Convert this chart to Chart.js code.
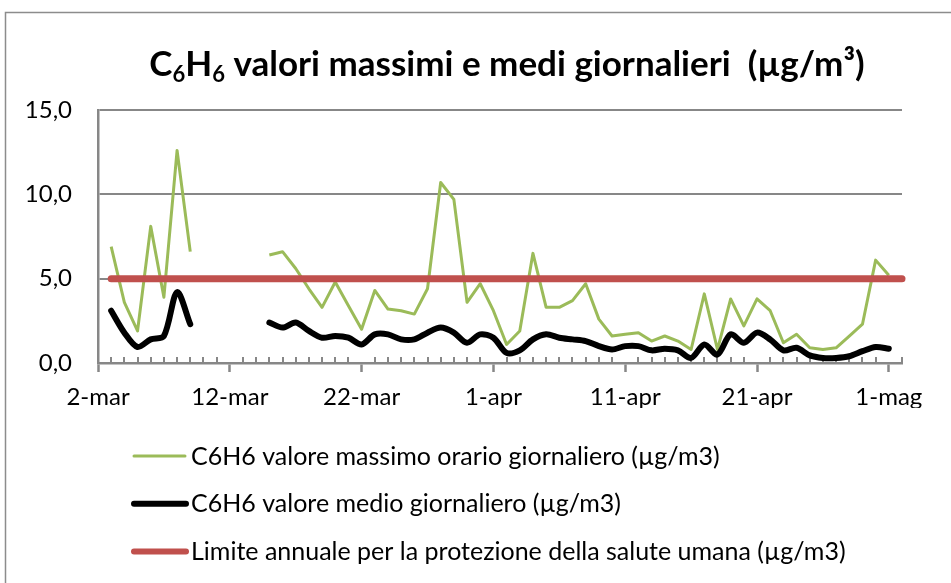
<!DOCTYPE html>
<html>
<head>
<meta charset="utf-8">
<script src="https://cdn.jsdelivr.net/npm/chart.js@4/dist/chart.umd.min.js"></script>
<style>
html,body{margin:0;padding:0;background:#fff;overflow:hidden}
canvas{display:block}
</style>
</head>
<body>
<canvas id="c" width="951" height="583"></canvas>
<script>
// ---- data ----
const categories = [
  '2-mar','3-mar','4-mar','5-mar','6-mar','7-mar','8-mar','9-mar','10-mar','11-mar',
  '12-mar','13-mar','14-mar','15-mar','16-mar','17-mar','18-mar','19-mar','20-mar','21-mar',
  '22-mar','23-mar','24-mar','25-mar','26-mar','27-mar','28-mar','29-mar','30-mar','31-mar',
  '1-apr','2-apr','3-apr','4-apr','5-apr','6-apr','7-apr','8-apr','9-apr','10-apr',
  '11-apr','12-apr','13-apr','14-apr','15-apr','16-apr','17-apr','18-apr','19-apr','20-apr',
  '21-apr','22-apr','23-apr','24-apr','25-apr','26-apr','27-apr','28-apr','29-apr','30-apr',
  '1-mag','2-mag'
];
const majorTickLabels = ['2-mar','12-mar','22-mar','1-apr','11-apr','21-apr','1-mag'];
const yTickValues = [0, 5, 10, 15];

const maxHourly = [
  null,
  6.9, 3.6, 1.9, 8.1, 3.9, 12.6, 6.6,
  null, null, null, null, null,
  6.4, 6.6, 5.6, 4.4, 3.3, 4.8, 3.4, 2.0,
  4.3, 3.2, 3.1, 2.9, 4.4, 10.7, 9.7, 3.6, 4.7,
  3.1, 1.1, 1.9, 6.5, 3.3, 3.3, 3.7, 4.7, 2.6, 1.6,
  1.7, 1.8, 1.3, 1.6, 1.3, 0.8, 4.1, 0.8, 3.8, 2.2,
  3.8, 3.1, 1.2, 1.7, 0.9, 0.8, 0.9, 1.6, 2.3, 6.1,
  5.2, null
];
const dailyMean = [
  null,
  3.1, 1.8, 0.95, 1.4, 1.6, 4.2, 2.3,
  null, null, null, null, null,
  2.4, 2.1, 2.4, 1.9, 1.5, 1.6, 1.5, 1.1,
  1.7, 1.7, 1.4, 1.4, 1.8, 2.1, 1.8, 1.2, 1.7,
  1.5, 0.6, 0.75, 1.4, 1.7, 1.5, 1.4, 1.3, 1.0, 0.8,
  1.0, 1.0, 0.75, 0.85, 0.75, 0.3, 1.1, 0.5, 1.7, 1.2,
  1.8, 1.4, 0.75, 0.9, 0.45, 0.3, 0.3, 0.4, 0.7, 0.95,
  0.85, null
];
const annualLimit = [
  null,
  5, 5, 5, 5, 5, 5, 5, 5, 5, 5,
  5, 5, 5, 5, 5, 5, 5, 5, 5, 5,
  5, 5, 5, 5, 5, 5, 5, 5, 5, 5,
  5, 5, 5, 5, 5, 5, 5, 5, 5, 5,
  5, 5, 5, 5, 5, 5, 5, 5, 5, 5,
  5, 5, 5, 5, 5, 5, 5, 5, 5, 5,
  5
];
const seriesLabels = [
  'C6H6 valore massimo orario giornaliero (µg/m3)',
  'C6H6 valore medio giornaliero (µg/m3)',
  'Limite annuale per la protezione della salute umana (µg/m3)'
];
const titleParts = [['C', false], ['6', true], ['H', false], ['6', true], [' valori massimi e medi giornalieri  (µg/m³)', false]];

// ---- style ----
const GRAY = '#878787';
const FONT = 'Lato, Carlito, "Open Sans", sans-serif';

const framePlugin = {
  id: 'frame',
  beforeDraw(chart) {
    const ctx = chart.ctx;
    ctx.save();
    ctx.strokeStyle = '#8c8c8c';
    ctx.lineWidth = 1.5;
    ctx.beginPath();
    ctx.moveTo(5.5, chart.height);
    ctx.lineTo(5.5, 12.5);
    ctx.lineTo(chart.width, 12.5);
    ctx.stroke();
    ctx.restore();
  }
};

const minorTicksPlugin = {
  id: 'minorTicks',
  beforeDatasetsDraw(chart) {
    const xs = chart.scales.x, ctx = chart.ctx;
    const y0 = chart.chartArea.bottom;
    ctx.save();
    ctx.strokeStyle = GRAY;
    ctx.lineWidth = 2;
    ctx.beginPath();
    for (let i = 1; i < categories.length; i++) {
      if (majorTickLabels.includes(categories[i])) continue;
      const x = Math.round(xs.getPixelForValue(i));
      ctx.moveTo(x, y0);
      ctx.lineTo(x, y0 - 6);
    }
    ctx.stroke();
    ctx.restore();
  }
};

const titlePlugin = {
  id: 'subTitle',
  afterDraw(chart) {
    const ctx = chart.ctx;
    const big = 'bold 35px ' + FONT, small = 'bold 22px ' + FONT;
    ctx.save();
    let total = 0;
    const widths = titleParts.map(([t, sub]) => { ctx.font = sub ? small : big; const w = ctx.measureText(t).width; total += w; return w; });
    let x = 507 - total / 2;
    const base = 76;
    ctx.fillStyle = '#000';
    ctx.textBaseline = 'alphabetic';
    titleParts.forEach(([t, sub], i) => {
      ctx.font = sub ? small : big;
      ctx.fillText(t, x, base + (sub ? 6 : 0));
      x += widths[i];
    });
    ctx.restore();
  }
};

const legendPlugin = {
  id: 'stackLegend',
  afterDraw(chart) {
    const ctx = chart.ctx;
    ctx.save();
    ctx.font = '25px ' + FONT;
    ctx.textBaseline = 'alphabetic';
    chart.data.datasets.forEach((ds, i) => {
      const yLine = 456 + i * 47.8;
      ctx.strokeStyle = ds.borderColor;
      ctx.lineWidth = Math.min(ds.borderWidth, 6);
      ctx.lineCap = 'round';
      ctx.beginPath();
      ctx.moveTo(134, yLine);
      ctx.lineTo(i === 0 ? 185 : 186, yLine);
      ctx.stroke();
      ctx.fillStyle = '#000';
      ctx.fillText(ds.label, 191, yLine + 8.5);
    });
    ctx.restore();
  }
};

new Chart(document.getElementById('c'), {
  type: 'line',
  data: {
    labels: categories,
    datasets: [
      { label: seriesLabels[0], data: maxHourly, borderColor: '#9BBB59', borderWidth: 3,
        pointRadius: 0, tension: 0, spanGaps: false, order: 2, borderJoinStyle: 'round' },
      { label: seriesLabels[1], data: dailyMean, borderColor: '#000000', borderWidth: 6,
        pointRadius: 0, tension: 0.3, spanGaps: false, order: 1, borderJoinStyle: 'round', borderCapStyle: 'round' },
      { label: seriesLabels[2], data: annualLimit, borderColor: '#C0504D', borderWidth: 7,
        pointRadius: 0, tension: 0, order: 0, borderCapStyle: 'round', clip: 8 }
    ]
  },
  options: {
    responsive: false,
    animation: false,
    events: [],
    layout: { padding: { left: 0, top: 110, right: 49, bottom: 175 } },
    plugins: { legend: { display: false }, title: { display: false }, tooltip: { enabled: false } },
    scales: {
      x: {
        type: 'category',
        offset: false,
        afterFit(s) { s.height = 45; },
        afterBuildTicks(s) { s.ticks = s.ticks.filter(t => majorTickLabels.includes(categories[t.value])); },
        grid: { display: true, drawOnChartArea: false, drawTicks: true, tickLength: 9, tickColor: GRAY, tickWidth: 2.5 },
        border: { display: true, color: GRAY, width: 2.5 },
        ticks: {
          autoSkip: false, maxRotation: 0, minRotation: 0, padding: 11,
          color: '#000', font: { family: FONT, size: 24 },
          callback(v) { return categories[v]; }
        }
      },
      y: {
        min: 0, max: 15,
        afterFit(s) { s.width = 98; },
        afterBuildTicks(s) { s.ticks = yTickValues.map(v => ({ value: v })); },
        grid: { color: GRAY, lineWidth: 2, drawTicks: false },
        border: { display: true, color: GRAY, width: 2.5 },
        ticks: {
          padding: 26, color: '#000', font: { family: FONT, size: 24 },
          callback(v) { return v.toFixed(1).replace('.', ','); }
        }
      }
    }
  },
  plugins: [framePlugin, minorTicksPlugin, titlePlugin, legendPlugin]
});
</script>
</body>
</html>
